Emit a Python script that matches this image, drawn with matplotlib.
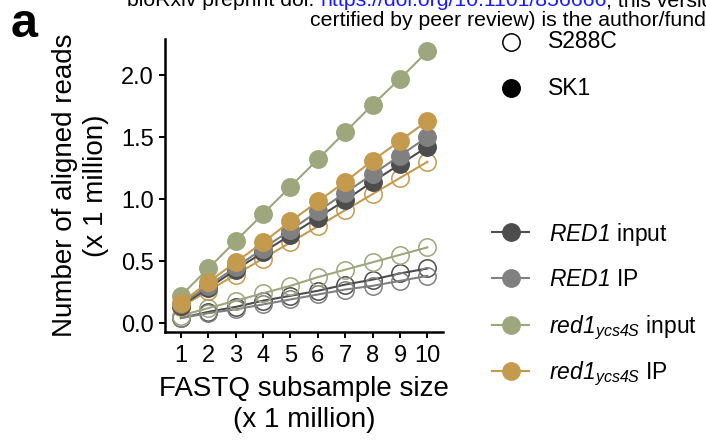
import matplotlib
matplotlib.use('Agg')
import matplotlib.pyplot as plt
from matplotlib.lines import Line2D

plt.rcParams['font.family'] = ['Liberation Sans', 'DejaVu Sans']
# math text is only used for the italic gene names, so make it all italic
plt.rcParams['mathtext.fontset'] = 'custom'
plt.rcParams['mathtext.rm'] = 'Liberation Sans:italic'
plt.rcParams['mathtext.it'] = 'Liberation Sans:italic'

# subsample size (million reads) vs aligned reads (million)
subsample = [1, 2, 3, 4, 5, 6, 7, 8, 9, 10]

# SK1 reads (filled circles)
red1_input_sk1 = [0.14, 0.28, 0.43, 0.57, 0.71, 0.85, 0.99, 1.14, 1.28, 1.42]
red1_ip_sk1 = [0.15, 0.30, 0.45, 0.60, 0.75, 0.90, 1.05, 1.20, 1.35, 1.50]
ycs4s_input_sk1 = [0.22, 0.44, 0.66, 0.88, 1.10, 1.32, 1.54, 1.76, 1.97, 2.19]
ycs4s_ip_sk1 = [0.16, 0.33, 0.49, 0.65, 0.82, 0.98, 1.14, 1.31, 1.47, 1.63]

# S288C reads (open circles)
red1_input_s288c = [0.04, 0.09, 0.13, 0.18, 0.22, 0.26, 0.31, 0.35, 0.40, 0.44]
red1_ip_s288c = [0.04, 0.08, 0.11, 0.15, 0.19, 0.23, 0.27, 0.30, 0.34, 0.38]
ycs4s_input_s288c = [0.06, 0.12, 0.18, 0.24, 0.30, 0.37, 0.43, 0.49, 0.55, 0.61]
ycs4s_ip_s288c = [0.13, 0.26, 0.39, 0.52, 0.65, 0.78, 0.91, 1.04, 1.17, 1.30]

labels = [r'$RED1$ input', r'$RED1$ IP',
          r'$red1_{ycs4S}$ input', r'$red1_{ycs4S}$ IP']
colors = ['#4d4d4d', '#808080', '#9da67c', '#c49a4d']
sk1 = [red1_input_sk1, red1_ip_sk1, ycs4s_input_sk1, ycs4s_ip_sk1]
s288c = [red1_input_s288c, red1_ip_s288c, ycs4s_input_s288c, ycs4s_ip_s288c]

W, H = 706, 443
fig = plt.figure(figsize=(W / 100, H / 100), dpi=100)
ax = fig.add_axes([165 / W, 1 - 331.7 / H, (443 - 165) / W, (331.7 - 39.3) / H])

ms = 12.5
for ys, c in zip(s288c, colors):
    ax.plot(subsample, ys, color=c, lw=1.5, marker='o', ms=ms,
            mfc='none', mec=c, mew=1.1)
for ys, c in zip(sk1, colors):
    ax.plot(subsample, ys, color=c, lw=1.5, marker='o', ms=ms,
            mfc=c, mec=c, mew=1.1)

ax.set_xlim(0.42, 10.57)
ax.set_ylim(-0.07, 2.288)
ax.set_xticks(subsample)
ax.set_xticklabels([str(v) for v in subsample])
ax.set_yticks([0, 0.5, 1.0, 1.5, 2.0])
ax.set_yticklabels(['0.0', '0.5', '1.0', '1.5', '2.0'])
for s in ['top', 'right']:
    ax.spines[s].set_visible(False)
for s in ['left', 'bottom']:
    ax.spines[s].set_linewidth(1.8)
ax.tick_params(axis='both', width=1.4, length=4.5, labelsize=17, color='black')
ax.tick_params(axis='y', pad=3.5)
ax.tick_params(axis='x', pad=5)
ax.set_xlabel('FASTQ subsample size\n(x 1 million)', fontsize=20,
              linespacing=1.25, labelpad=6.5)
ax.set_ylabel('Number of aligned reads\n(x 1 million)', fontsize=20,
              linespacing=1.25, labelpad=9)

# legend: strain
for y, filled, name in [(41.7, False, 'S288C'), (88.3, True, 'SK1')]:
    fig.add_artist(Line2D([510.7 / W], [1 - y / H], transform=fig.transFigure,
                          marker='o', ms=ms, mfc='black' if filled else 'none',
                          mec='black', mew=1.1, ls='none'))
    fig.text(548.3 / W, 1 - y / H, name, fontsize=16.5, va='center')

# legend: sample
for i, (lab, c) in enumerate(zip(labels, colors)):
    y = 1 - (232.3 + i * 46.1) / H
    fig.add_artist(Line2D([491.7 / W, 529 / W], [y, y], transform=fig.transFigure,
                          color=c, lw=1.5))
    fig.add_artist(Line2D([511 / W], [y], transform=fig.transFigure,
                          marker='o', ms=ms, mfc=c, mec=c, ls='none'))
    fig.text(549.3 / W, y + 1.5 / H, lab, fontsize=16.5, va='center_baseline')

# panel letter
fig.text(11 / W, 1 - 37 / H, 'a', fontsize=35, fontweight='bold', va='baseline')

# page header
t1 = fig.text(127 / W, 1 - 6.5 / H, 'bioRxiv preprint doi: ', fontsize=15.3, va='baseline')
url = ax.annotate('https://doi.org/10.1101/856666', xy=(1, 0), xycoords=t1,
                  fontsize=15.3, color='#1a1aff', va='bottom', ha='left')
ax.annotate(', this version', xy=(1, 0), xycoords=url,
            fontsize=15.3, va='bottom', ha='left')
fig.text(310 / W, 1 - 26 / H, 'certified by peer review) is the author/funder',
         fontsize=15.3, va='baseline')

fig.savefig('out.png', dpi=100)
